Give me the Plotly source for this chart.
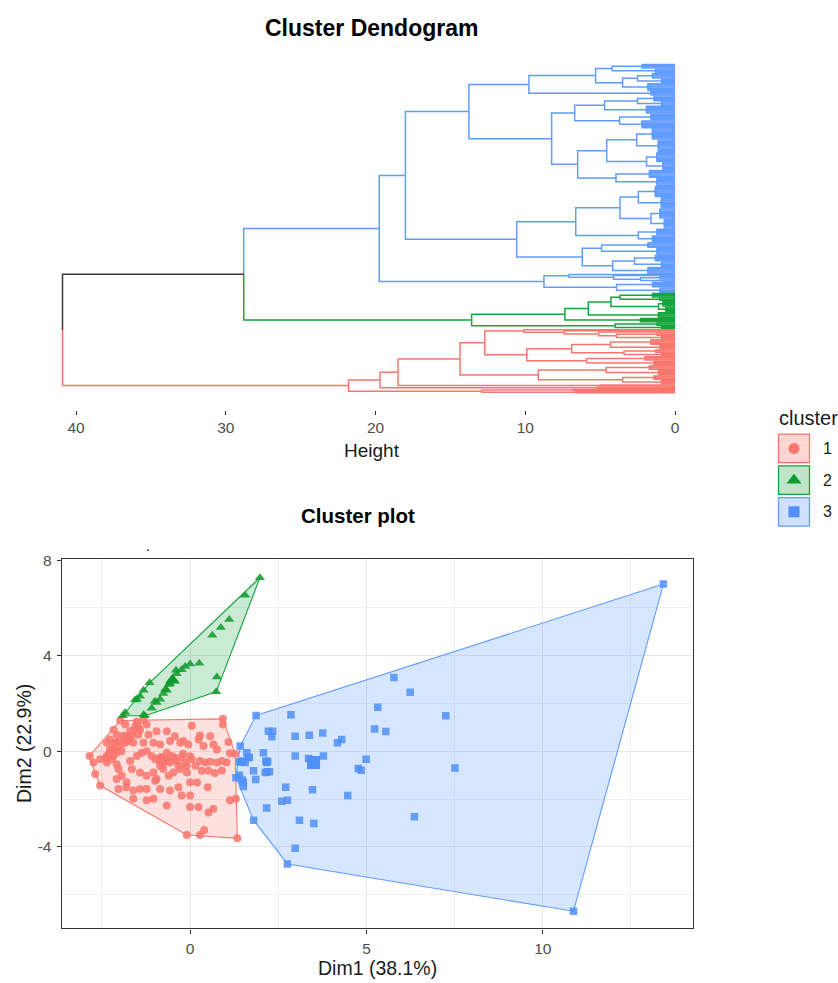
import plotly.graph_objects as go

FONT = "Liberation Sans, Arial, Helvetica, sans-serif"
W, H = 838, 983

# ---------------- data ----------------
cluster_labels = ["1", "2", "3"]
cluster_colors = ["#F8766D", "#14A53C", "#619CFF"]
marker_colors = ["#F8766D", "#0E9A2C", "#4F8FF7"]
fill_colors = ["rgba(248,118,109,0.22)", "rgba(20,160,60,0.22)", "rgba(97,156,255,0.25)"]
legend_fill = ["rgba(248,118,109,0.30)", "rgba(20,160,60,0.28)", "rgba(97,156,255,0.30)"]
symbols = ["circle", "triangle-up", "square"]
marker_sizes = [8, 9, 7.5]
root_color = "#3A3A3A"

height_ticks = [0, 10, 20, 30, 40]
root_height = 40.9
upper_merge_height = 28.8

# dendrogram: node = (merge height, upper child, lower child); leaf group = [n leaves, merge height]
blue_tree = (19.75,
    (18.0,
        (13.76,
            (9.75,
                (5.3, (4.2, [4, 2.2], [4, 1.3]), (3.5, (2.5, [5, 1.5], [4, 0.9]), [7, 1.8])),
                [4, 1.6]),
            (8.24,
                (6.7, (4.7, (2.5, [5, 1.4], [4, 0.9]), [7, 1.9]), (3.7, [6, 1.6], [7, 2.2])),
                (6.5, (4.56, (2.56, [10, 1.5], [11, 1.1]), (1.9, [9, 1.2], [7, 0.8])),
                      (3.94, [7, 1.7], [7, 1.2])))),
        (10.57,
            (6.63, (3.67, (2.45, [10, 1.3], [10, 0.9]), (1.6, [9, 1.0], [9, 0.7])),
                   (2.45, [6, 1.2], [6, 1.5])),
            (6.19, (4.9, [5, 1.8], [6, 1.2]), (4.16, (2.7, [6, 1.3], [5, 0.9]), [6, 1.8])))),
    (8.75,
        (7.08, [1, 0], (4.1, [1, 0], (2.3, [3, 1.0], [2, 0.7]))),
        (3.9, [5, 1.5], [5, 1.0])))

green_tree = (13.58,
    (7.35,
        (5.79,
            (4.28, (3.67, [4, 1.5], [3, 1.0]), (1.1, [5, 0.8], [5, 0.6])),
            [5, 1.1]),
        [4, 2.3]),
    (4.0, [3, 1.2], [3, 0.9]))

red_tree = (21.8,
    (19.7,
        (18.5,
            (14.36,
                (12.7,
                    (10.1, [1, 0], (7.4, [1, 0], (5.1, [1, 0], (3.9, [3, 1.2], [3, 0.9])))),
                    (9.9, (6.9, (4.3, [5, 1.6], [4, 1.0]), (3.4, [3, 1.3], [3, 0.9])),
                          (5.9, [4, 2.0], [4, 1.4]))),
                (9.13, (4.6, [4, 1.7], [5, 1.1]), (3.5, [4, 1.4], [4, 0.9]))),
            [2, 5.0]),
        [2, 5.2]),
    (12.9, [2, 6.8], [2, 6.6]))

# cluster plot (Dim1, Dim2)
red_points = [
    (-1.98, 1.29), (-1.84, 1.12), (-1.51, 1.25), (-1.47, 1.05), (-1.32, 1.32), (-1.23, 1.12),
    (0.05, 1.07), (0.93, 1.36), (0.93, 1.12), (-2.17, 0.91), (-2.08, 0.70), (-1.42, 0.91),
    (-1.18, 0.70), (-0.95, 0.84), (-0.66, 0.84), (-0.43, 0.63), (-0.19, 0.43), (0.28, 0.66),
    (0.57, 0.63), (1.09, 0.39), (-2.27, 0.50), (-2.36, 0.36), (-2.13, 0.36), (-1.89, 0.50),
    (-1.70, 0.56), (-1.32, 0.36), (-1.04, 0.36), (-0.85, 0.29), (-0.57, 0.43), (-0.28, 0.36),
    (-0.05, 0.29), (0.24, 0.50), (0.38, 0.22), (0.66, 0.29), (0.76, 0.08), (1.13, -0.08),
    (1.28, -0.10), (-2.85, -0.19), (-2.74, -0.47), (-2.55, -0.33), (-2.36, -0.47), (-2.22, -0.33),
    (-2.08, -0.54), (-2.03, -0.74), (-1.70, -0.40), (-1.51, -0.19), (-1.37, -0.06), (-1.23, 0.01),
    (-1.09, -0.19), (-0.99, -0.33), (-0.85, -0.26), (-0.66, -0.06), (-0.52, -0.19), (-0.38, -0.40),
    (-0.24, -0.26), (-0.14, -0.47), (0.05, -0.33), (0.28, -0.40), (0.43, -0.47), (0.57, -0.43),
    (0.76, -0.47), (0.90, -0.40), (1.04, -0.47), (-2.69, -0.95), (-2.55, -1.43), (-2.08, -1.16),
    (-1.94, -1.02), (-1.80, -1.29), (-1.65, -0.74), (-1.42, -0.88), (-1.23, -1.02), (-1.04, -0.88),
    (-0.95, -1.16), (-0.76, -0.74), (-0.61, -1.02), (-0.47, -0.88), (-0.28, -0.74), (-0.09, -0.88),
    (0.00, -1.29), (0.33, -0.81), (0.52, -0.81), (-2.03, -1.57), (-1.81, -1.50), (-1.61, -1.64),
    (-1.42, -1.57), (-1.23, -1.57), (-0.99, -1.23), (-0.85, -1.57), (-0.57, -1.64), (-0.33, -1.50),
    (0.00, -1.85), (-1.61, -1.98), (-1.23, -2.05), (-1.04, -1.98), (-0.66, -2.26), (-0.24, -1.85),
    (0.00, -2.33), (0.24, -2.33), (0.66, -2.40), (0.52, -2.56), (1.13, -2.05), (1.30, -1.98),
    (-0.09, -3.50), (0.28, -3.50), (0.40, -3.29), (1.34, -3.64),
    (-2.27, 0.08), (-2.13, 0.08), (-1.98, 0.22), (-1.84, 0.36), (-1.75, 0.43), (-1.65, 0.70),
    (-1.56, 0.91), (-1.80, 0.63), (-1.94, 0.01), (-2.17, -0.19), (-2.36, -0.19), (-2.08, -0.06),
    (-1.61, 0.36), (-1.47, 0.70), (-2.40, -0.30), (-2.30, -0.10), (-2.20, 0.15), (-2.05, 0.40),
    (-1.90, 0.65), (-1.70, 0.85), (-1.55, 1.05),
    (-0.66, -0.33), (-0.57, -0.47), (-0.43, -0.26), (-0.75, -0.47), (-0.20, -0.10), (-0.10, -0.60),
    (0.15, -0.60), (-0.85, -0.60), (-0.33, -0.60), (0.00, -0.20), (0.70, -0.90), (0.90, -0.80),
    (0.20, -1.30), (0.50, -1.50),
]
green_points = [
    (1.98, 7.27), (1.56, 6.53), (1.11, 5.52), (0.87, 5.18), (0.63, 4.86), (0.26, 3.69),
    (0.00, 3.66), (-0.14, 3.55), (-0.24, 3.42), (-0.38, 3.25), (-0.49, 3.04), (-0.57, 2.84),
    (0.76, 3.11), (0.74, 2.49), (-0.66, 2.56), (-0.76, 2.42), (-0.85, 2.18), (-0.95, 2.04),
    (-1.09, 1.80), (-1.15, 2.87), (-1.32, 2.56), (-1.42, 2.31), (-1.51, 2.18), (-1.56, 2.15),
    (-1.84, 1.63), (-1.91, 1.49), (-1.28, 1.49), (-1.32, 1.53), (-0.40, 3.39), (-0.60, 2.80),
    (-0.70, 2.60), (-1.00, 2.10),
]
blue_points = [
    (13.42, 7.00), (10.87, -6.69), (6.24, 2.47), (7.25, 1.49), (7.51, -0.70), (6.36, -2.74),
    (1.87, 1.50), (2.86, 1.53), (5.78, 3.09), (5.32, 1.85), (5.23, 0.94), (5.55, 0.83),
    (2.22, 0.84), (2.34, 0.84), (2.32, 0.61), (2.98, 0.63), (3.38, 0.67), (3.76, 0.77),
    (4.18, 0.36), (4.30, 0.50), (1.42, 0.22), (1.40, -0.43), (1.61, -0.06), (1.65, -0.26),
    (1.56, -0.47), (1.80, -0.81), (2.08, -0.06), (2.15, -0.40), (2.17, -0.47), (2.13, -0.88),
    (2.25, -0.85), (1.86, -1.18), (1.30, -1.10), (1.51, -1.29), (1.51, -1.47), (2.98, -0.19),
    (3.78, -0.19), (4.99, -0.33), (4.77, -0.72), (4.85, -0.79), (2.71, -1.50), (2.60, -2.09),
    (2.76, -2.05), (2.17, -2.37), (3.47, -1.61), (4.47, -1.85), (3.10, -2.88), (3.51, -3.02),
    (2.98, -4.05), (2.76, -4.71), (1.80, -2.88), (1.45, -0.44), (1.50, -0.40), (2.20, -0.42),
    (3.36, -0.30), (1.68, -0.26), (1.40, -1.00), (1.48, -1.20), (2.19, -0.85),
]
cluster_points = [red_points, green_points, blue_points]
cluster_centers = [(-0.80, -0.35), (-0.50, 2.98), (3.50, -0.47)]

dim1_ticks = [0, 5, 10]
dim1_minor = [-2.5, 2.5, 7.5, 12.5]
dim2_ticks = [-4, 0, 4, 8]
dim2_ticktext = ["-4", "0", "4", "8"]
dim2_minor = [-6, -2, 2, 6]
dim1_range = [-3.64, 14.25]
dim2_range = [-7.41, 8.03]


# ---------------- helpers ----------------
def build(node, counter):
    if isinstance(node, list):
        n, h = node
        leaves = list(range(counter[0], counter[0] + n))
        counter[0] += n
        if n == 1:
            return {"h": 0.0, "y": float(leaves[0]), "kids": []}
        return {"h": h, "y": (leaves[0] + leaves[-1]) / 2.0,
                "kids": [{"h": 0.0, "y": float(l), "kids": []} for l in leaves]}
    h, a, b = node
    ka = build(a, counter)
    kb = build(b, counter)
    return {"h": h, "y": (ka["y"] + kb["y"]) / 2.0, "kids": [ka, kb]}


def draw(nd, xs, ys):
    for k in nd["kids"]:
        xs += [nd["h"], nd["h"], k["h"], None]
        ys += [nd["y"], k["y"], k["y"], None]
        draw(k, xs, ys)


def elbow(parent, child, xs, ys):
    xs += [parent["h"], parent["h"], child["h"], None]
    ys += [parent["y"], child["y"], child["y"], None]


def convex_hull(pts):
    pts = sorted(set(pts))

    def cross(o, a, b):
        return (a[0] - o[0]) * (b[1] - o[1]) - (a[1] - o[1]) * (b[0] - o[0])

    lower = []
    for p in pts:
        while len(lower) >= 2 and cross(lower[-2], lower[-1], p) <= 0:
            lower.pop()
        lower.append(p)
    upper = []
    for p in reversed(pts):
        while len(upper) >= 2 and cross(upper[-2], upper[-1], p) <= 0:
            upper.pop()
        upper.append(p)
    return lower[:-1] + upper[:-1]


# ---------------- dendrogram geometry ----------------
counter = [0]
blue_nd = build(blue_tree, counter)
green_nd = build(green_tree, counter)
red_nd = build(red_tree, counter)
n_leaves = counter[0]
upper_nd = {"h": upper_merge_height, "y": (blue_nd["y"] + green_nd["y"]) / 2.0}
root_nd = {"h": root_height, "y": (upper_nd["y"] + red_nd["y"]) / 2.0}

fig = go.Figure()

seg = {c: ([], []) for c in ["red", "green", "blue", "root"]}
draw(red_nd, *seg["red"])
draw(green_nd, *seg["green"])
draw(blue_nd, *seg["blue"])
elbow(upper_nd, blue_nd, *seg["blue"])
elbow(upper_nd, green_nd, *seg["green"])
elbow(root_nd, red_nd, *seg["red"])
elbow(root_nd, upper_nd, *seg["root"])

seg_colors = {"red": cluster_colors[0], "green": cluster_colors[1],
              "blue": cluster_colors[2], "root": root_color}
for key in ["blue", "green", "red", "root"]:
    xs, ys = seg[key]
    fig.add_trace(go.Scatter(x=xs, y=ys, mode="lines", xaxis="x", yaxis="y",
                             line=dict(color=seg_colors[key], width=1.5),
                             hoverinfo="skip", showlegend=False))

# ---------------- cluster plot ----------------
for i, pts in enumerate(cluster_points):
    hull = convex_hull(pts)
    hx = [p[0] for p in hull] + [hull[0][0]]
    hy = [p[1] for p in hull] + [hull[0][1]]
    fig.add_trace(go.Scatter(x=hx, y=hy, mode="lines", fill="toself",
                             fillcolor=fill_colors[i],
                             line=dict(color=cluster_colors[i], width=1.1),
                             xaxis="x2", yaxis="y2", hoverinfo="skip", showlegend=False))
for i, pts in enumerate(cluster_points):
    fig.add_trace(go.Scatter(x=[p[0] for p in pts], y=[p[1] for p in pts], mode="markers",
                             marker=dict(symbol=symbols[i], size=marker_sizes[i],
                                         color=marker_colors[i], opacity=0.85,
                                         line=dict(width=0)),
                             xaxis="x2", yaxis="y2", showlegend=False))
    cx, cy = cluster_centers[i]
    fig.add_trace(go.Scatter(x=[cx], y=[cy], mode="markers",
                             marker=dict(symbol=symbols[i], size=13, color=marker_colors[i],
                                         line=dict(width=0)),
                             xaxis="x2", yaxis="y2", showlegend=False))

# ---------------- legend (drawn) ----------------
shapes = []
for i, lab in enumerate(cluster_labels):
    shapes.append(dict(type="rect", xref="x3", yref="y3", x0=-0.43, x1=0.43,
                       y0=i - 0.45, y1=i + 0.45, fillcolor=legend_fill[i],
                       line=dict(color=cluster_colors[i], width=1.3), layer="below"))
    fig.add_trace(go.Scatter(x=[0], y=[i], mode="markers", xaxis="x3", yaxis="y3",
                             marker=dict(symbol=symbols[i], size=11 if i != 1 else 13,
                                         color=marker_colors[i]),
                             hoverinfo="skip", showlegend=False))

annotations = [
    dict(text="<b>Cluster Dendogram</b>", x=371 / W, y=1 - 20 / H, xref="paper", yref="paper",
         showarrow=False, font=dict(size=23, color="#000000", family=FONT),
         xanchor="center", yanchor="middle"),
    dict(text="Height", x=372 / W, y=1 - 446 / H, xref="paper", yref="paper",
         showarrow=False, font=dict(size=19, color="#1A1A1A", family=FONT),
         xanchor="center", yanchor="middle"),
    dict(text="<b>Cluster plot</b>", x=358 / W, y=1 - 512 / H, xref="paper", yref="paper",
         showarrow=False, font=dict(size=20.5, color="#000000", family=FONT),
         xanchor="center", yanchor="middle"),
    dict(text="Dim1 (38.1%)", x=377 / W, y=1 - 968 / H, xref="paper", yref="paper",
         showarrow=False, font=dict(size=19.5, color="#1A1A1A", family=FONT),
         xanchor="center", yanchor="middle"),
    dict(text="Dim2 (22.9%)", x=24 / W, y=1 - 742 / H, xref="paper", yref="paper",
         showarrow=False, textangle=-90, font=dict(size=19.5, color="#1A1A1A", family=FONT),
         xanchor="center", yanchor="middle"),
    dict(text="cluster", x=777 / W, y=1 - 413 / H, xref="paper", yref="paper",
         showarrow=False, font=dict(size=20, color="#1A1A1A", family=FONT),
         xanchor="left", yanchor="middle"),
    dict(text=".", x=148 / W, y=1 - 552 / H, xref="paper", yref="paper",
         showarrow=False, font=dict(size=14, color="#000000", family=FONT),
         xanchor="center", yanchor="bottom"),
]
for i, lab in enumerate(cluster_labels):
    annotations.append(dict(text=lab, x=0.5, y=i, xref="x3", yref="y3", xanchor="left",
                            xshift=9, yanchor="middle", showarrow=False,
                            font=dict(size=16, color="#1A1A1A", family=FONT)))

# dendrogram vertical placement: leaves from y=57px to y=388px in a panel 50..405px
top_px, bot_px, first_px, last_px = 50.0, 405.0, 57.0, 388.0
ppl = (last_px - first_px) / (n_leaves - 1)
y_top = -(first_px - top_px) / ppl
y_bot = (n_leaves - 1) + (bot_px - last_px) / ppl

# dendrogram height axis: h=40 at 76px, h=0 at 675px
px_per_h = (675.0 - 76.0) / 40.0
dx0, dx1 = 40.0, 705.0
h_left = (675.0 - dx0) / px_per_h
h_right = (675.0 - dx1) / px_per_h

tickfont = dict(size=15.5, color="#4D4D4D", family=FONT)

fig.update_layout(
    width=W, height=H,
    margin=dict(l=0, r=0, t=0, b=0),
    paper_bgcolor="white", plot_bgcolor="white",
    showlegend=False,
    font=dict(family=FONT),
    xaxis=dict(domain=[dx0 / W, dx1 / W], range=[h_left, h_right], anchor="y",
               tickvals=height_ticks, ticks="outside", ticklen=4, tickwidth=1,
               tickcolor="#333333", showgrid=False, zeroline=False, showline=False,
               tickfont=tickfont, ticklabelstandoff=0, fixedrange=True),
    yaxis=dict(domain=[1 - bot_px / H, 1 - top_px / H], range=[y_bot, y_top], anchor="x",
               visible=False, fixedrange=True),
    xaxis2=dict(domain=[61.7 / W, 692.7 / W], range=dim1_range, anchor="y2",
                tickvals=dim1_ticks, ticks="outside", ticklen=4, tickcolor="#333333",
                showline=True, mirror=True, linecolor="#333333", linewidth=1.2,
                showgrid=True, gridcolor="#E8E8E8", gridwidth=1.3, zeroline=False,
                minor=dict(tickvals=dim1_minor, showgrid=True, gridcolor="#F0F0F0",
                           gridwidth=0.9, ticks=""),
                tickfont=tickfont, ticklabelstandoff=2, fixedrange=True),
    yaxis2=dict(domain=[1 - 928 / H, 1 - 556 / H], range=dim2_range, anchor="x2",
                tickvals=dim2_ticks, ticktext=dim2_ticktext, ticks="outside", ticklen=4,
                tickcolor="#333333",
                showline=True, mirror=True, linecolor="#333333", linewidth=1.2,
                showgrid=True, gridcolor="#E8E8E8", gridwidth=1.3, zeroline=False,
                minor=dict(tickvals=dim2_minor, showgrid=True, gridcolor="#F0F0F0",
                           gridwidth=0.9, ticks=""),
                tickfont=tickfont, ticklabelstandoff=2, fixedrange=True),
    xaxis3=dict(domain=[776 / W, 812 / W], range=[-0.5, 0.5], anchor="y3", visible=False,
                fixedrange=True),
    yaxis3=dict(domain=[1 - 524 / H, 1 - 428 / H], range=[2.5, -0.5], anchor="x3",
                visible=False, fixedrange=True),
    shapes=shapes,
    annotations=annotations,
)

fig.write_html("out.html", config={"displayModeBar": False},
               post_script="document.body.style.margin='0px';document.body.style.padding='0px';")
